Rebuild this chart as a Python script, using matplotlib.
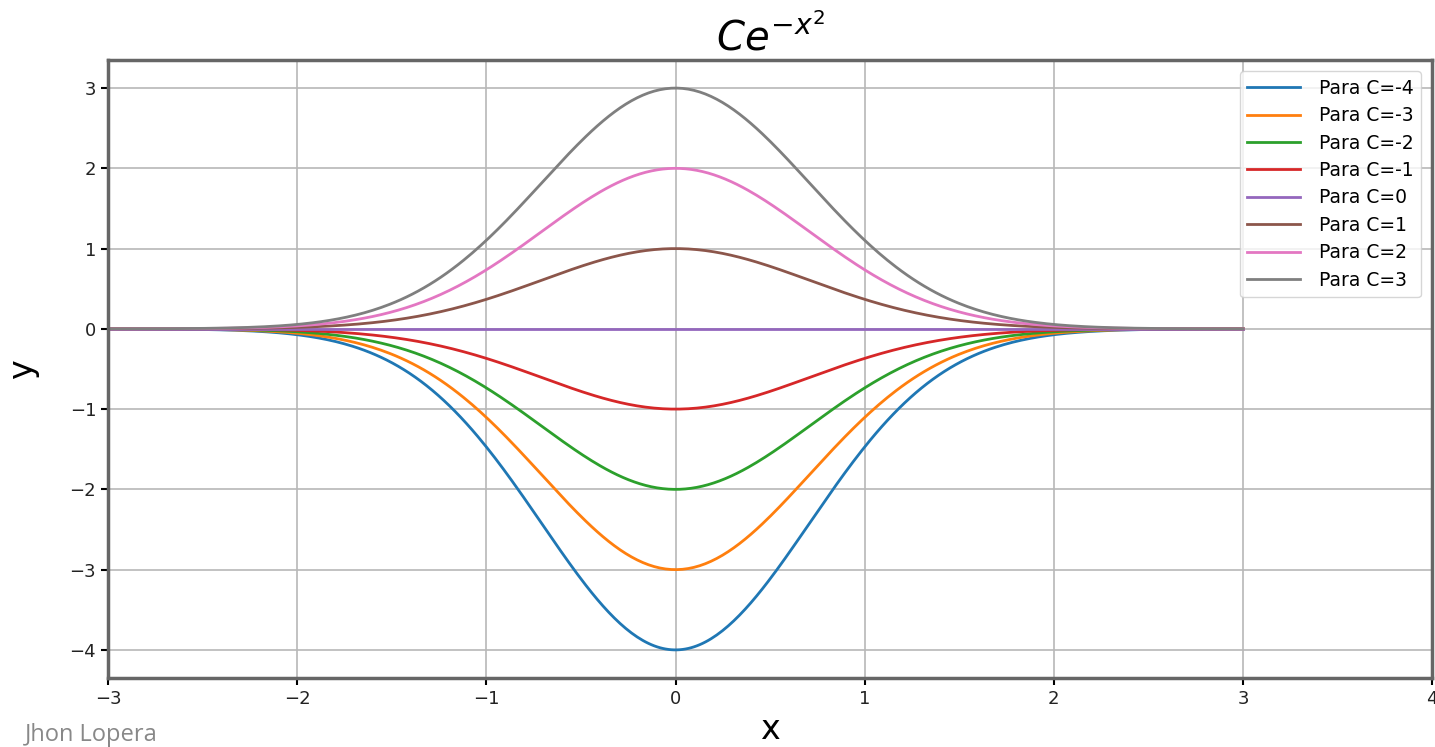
import numpy as np
import matplotlib
matplotlib.use("Agg")
import matplotlib.pyplot as plt

# constantes C de la familia y = C*exp(-x^2)
C_values = [-4, -3, -2, -1, 0, 1, 2, 3]
x = np.linspace(-3, 3, 400)

fig = plt.figure(figsize=(14.35, 7.47), dpi=100)
ax = fig.add_axes([0.0753, 0.0924, 0.9227, 0.8273])

for C in C_values:
    ax.plot(x, C * np.exp(-x**2), lw=2, label="Para C=%d" % C)

ax.set_xlim(-3, 4)
ax.set_ylim(-4.35, 3.35)
ax.grid(True, color="#b8b8b8", lw=1.2)
for s in ax.spines.values():
    s.set_color("#666666")
    s.set_linewidth(2.5)
ax.tick_params(labelsize=13, width=1.5, length=5, labelcolor="#222222")

ax.set_title("$Ce^{-x^2}$", fontsize=29, pad=4)
ax.set_xlabel("x", fontsize=24, labelpad=4)
ax.set_ylabel("y", fontsize=24, labelpad=22)
ax.legend(loc="upper right", fontsize=13.5, handlelength=2.8,
          handletextpad=1.0, labelspacing=0.45, borderaxespad=0.6)

fig.text(0.017, 0.0, "Jhon Lopera", fontsize=17, color="#888888",
         family="Open Sans", va="bottom")

plt.savefig("out.png")
